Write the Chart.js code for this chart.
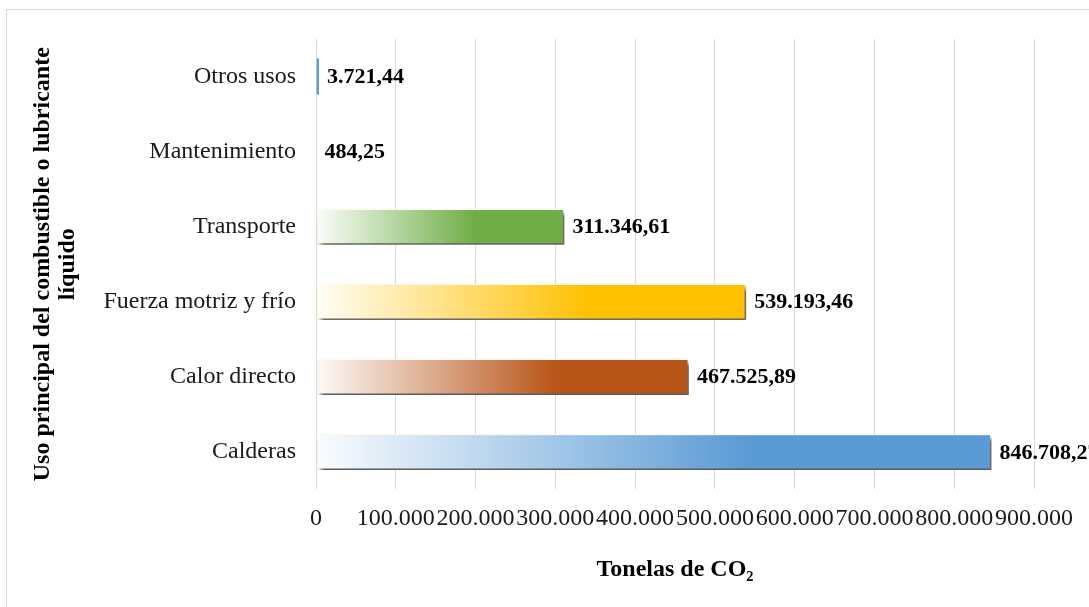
<!DOCTYPE html>
<html>
<head>
<meta charset="utf-8">
<script src="https://cdn.jsdelivr.net/npm/chart.js@4.4.1/dist/chart.umd.min.js"></script>
<style>
  html, body { margin: 0; padding: 0; background: #fff; }
  #wrap { position: relative; width: 1089px; height: 607px; overflow: hidden; }
  #frame { position: absolute; left: 6px; top: 9px; width: 1200px; height: 700px; border: 1px solid #d9d9d9; }
  canvas { position: absolute; left: 0; top: 0; }
</style>
</head>
<body>
<div id="wrap">
  <div id="frame"></div>
  <canvas id="myUsoChart" width="1089" height="607"></canvas>
</div>
<script>
// Emisiones por uso principal (top to bottom)
var usoLabels = ["Otros usos", "Mantenimiento", "Transporte", "Fuerza motriz y frío", "Calor directo", "Calderas"];
var usoValues = [3721.44, 484.25, 311346.61, 539193.46, 467525.89, 846708.27];
var usoValueText = ["3.721,44", "484,25", "311.346,61", "539.193,46", "467.525,89", "846.708,27"];
var usoColors = ["#5B9BD5", "#A5A5A5", "#70AD47", "#FFC000", "#B8561A", "#5B9BD5"];
var xTickLabels = ["0", "100.000", "200.000", "300.000", "400.000", "500.000", "600.000", "700.000", "800.000", "900.000"];

var serif = "'Liberation Serif', 'Times New Roman', serif";

function hexToRgb(h) {
    var n = parseInt(h.slice(1), 16);
    return [(n >> 16) & 255, (n >> 8) & 255, n & 255];
}

// mix colour with white, t = share of colour
function tint(c, t) {
    return "rgb(" + c.map(function (v) { return Math.round(255 - (255 - v) * t); }).join(",") + ")";
}

function barWidthPx(ctx) {
    var x = ctx.chart.scales.x;
    if (!x || !ctx.chart.chartArea) return 0;
    return x.getPixelForValue(ctx.raw) - x.getPixelForValue(0);
}

function barGradient(ctx) {
    var color = usoColors[ctx.dataIndex];
    var w = barWidthPx(ctx);
    if (w < 10) return color;
    var x = ctx.chart.scales.x;
    var x0 = x.getPixelForValue(0);
    var c = hexToRgb(color);
    var g = ctx.chart.ctx.createLinearGradient(x0, 0, x0 + w, 0);
    g.addColorStop(0, tint(c, 0.03));
    g.addColorStop(0.3, tint(c, 0.48));
    g.addColorStop(0.64, tint(c, 1));
    g.addColorStop(1, tint(c, 1));
    return g;
}

function barBorder(ctx) {
    return barWidthPx(ctx) < 10 ? usoColors[ctx.dataIndex] : "rgba(255,251,238,1)";
}

var barDecor = {
    id: "barDecor",
    beforeDatasetsDraw: function (chart) {
        var ctx = chart.ctx;
        ctx.save();
        ctx.shadowColor = "rgba(0,0,0,0.65)";
        ctx.shadowBlur = 4;
        ctx.shadowOffsetX = 3;
        ctx.shadowOffsetY = 4;
    },
    afterDatasetsDraw: function (chart) {
        var ctx = chart.ctx;
        ctx.restore();
        ctx.save();
        ctx.font = "bold 22px " + serif;
        ctx.fillStyle = "#000";
        ctx.textBaseline = "middle";
        ctx.textAlign = "left";
        chart.getDatasetMeta(0).data.forEach(function (bar, i) {
            ctx.fillText(usoValueText[i], bar.x + 8, bar.y + 1);
        });
        ctx.restore();
    }
};

new Chart("myUsoChart", {
    type: "bar",
    data: {
        labels: usoLabels,
        datasets: [{
            data: usoValues,
            backgroundColor: barGradient,
            borderColor: barBorder,
            borderWidth: 1.5,
            borderSkipped: false,
            categoryPercentage: 1,
            barPercentage: 0.485
        }]
    },
    plugins: [barDecor],
    options: {
        indexAxis: "y",
        responsive: false,
        animation: false,
        layout: { padding: { left: 10, right: 55, top: 39, bottom: 18.6 } },
        plugins: {
            legend: { display: false },
            tooltip: { enabled: false }
        },
        scales: {
            x: {
                min: 0,
                max: 900000,
                ticks: {
                    stepSize: 100000,
                    autoSkip: false,
                    maxRotation: 0,
                    minRotation: 0,
                    padding: 14.6,
                    color: "#1a1a1a",
                    font: { family: serif, size: 24 },
                    callback: function (v, i) { return xTickLabels[i]; }
                },
                grid: { color: "#d9d9d9", drawTicks: false },
                border: { display: false },
                title: {
                    display: true,
                    text: "Tonelas de CO₂",
                    color: "#000",
                    font: { family: serif, size: 24, weight: "bold" },
                    padding: { top: 8.2, bottom: 4 }
                }
            },
            y: {
                afterFit: function (scale) { scale.width = 306; },
                ticks: {
                    padding: 20,
                    color: "#1a1a1a",
                    font: { family: serif, size: 24 }
                },
                grid: { display: false, drawTicks: false },
                border: { display: false },
                title: {
                    display: true,
                    text: ["Uso principal del combustible o lubricante", "líquido"],
                    color: "#000",
                    font: { family: serif, size: 24, weight: "bold", lineHeight: 1.05 },
                    padding: { top: 20.4, bottom: 4 }
                }
            }
        }
    }
});
</script>
</body>
</html>
